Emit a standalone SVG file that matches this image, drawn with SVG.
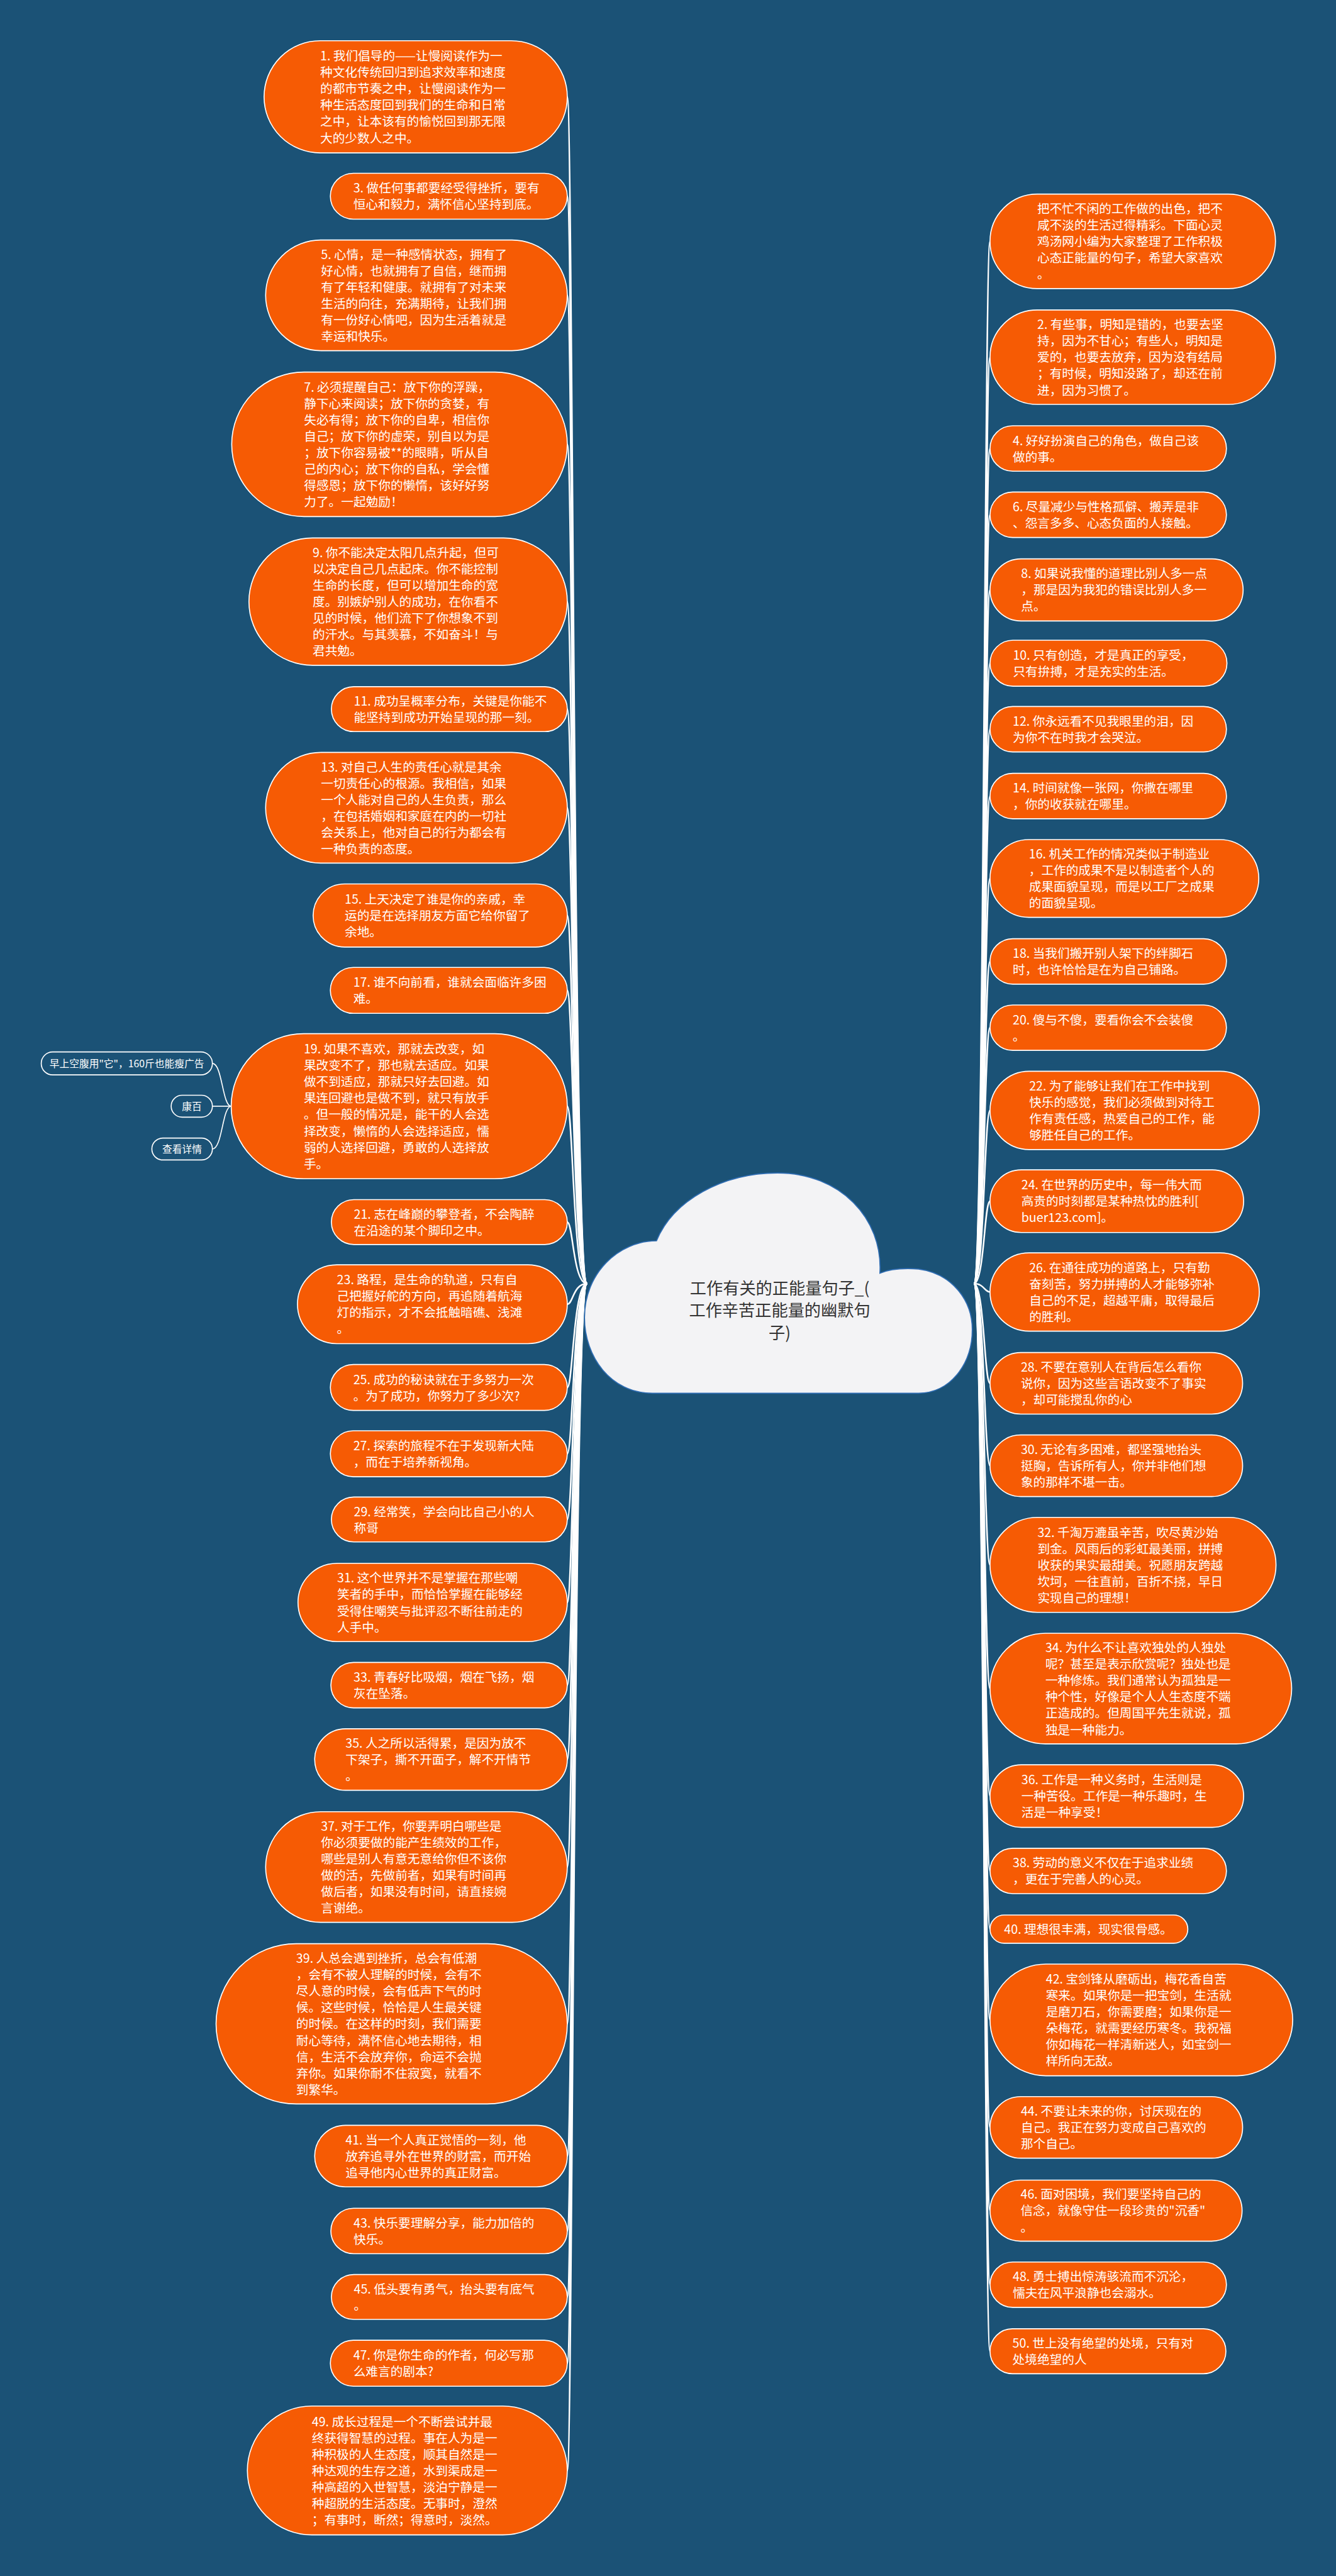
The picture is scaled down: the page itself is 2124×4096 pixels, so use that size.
<svg xmlns="http://www.w3.org/2000/svg" width="2124" height="4096" viewBox="0 0 2124 4096">
<style>
.p{fill:#f65b04;stroke:#ffffff;stroke-width:2}
.t{fill:#ffffff;font-family:"Noto Sans CJK SC","Noto Sans",sans-serif;font-size:23.7px}
.c{fill:none;stroke:#ffffff;stroke-width:3}
.sc{fill:none;stroke:#ffffff;stroke-width:2}
.s{fill:#1b5276;stroke:#ffffff;stroke-width:2}
.st{fill:#ffffff;font-family:"Noto Sans CJK SC","Noto Sans",sans-serif;font-size:19px;text-anchor:middle}
.rt{fill:#333333;font-family:"Noto Sans CJK SC","Noto Sans",sans-serif;font-size:31.6px;text-anchor:middle}
</style>
<rect x="0" y="0" width="2124" height="4096" fill="#1b5276"/>
<g transform="scale(0.8297)">
<g id="connectors">
<path class="c" d="M1125 2460C1098 2460 1098 185.5 1087 185.5"/>
<path class="c" d="M1125 2460C1098 2460 1098 376 1087 376"/>
<path class="c" d="M1125 2460C1098 2460 1098 566 1087 566"/>
<path class="c" d="M1125 2460C1098 2460 1098 851.5 1087 851.5"/>
<path class="c" d="M1125 2460C1098 2460 1098 1153 1087 1153"/>
<path class="c" d="M1125 2460C1098 2460 1098 1359 1087 1359"/>
<path class="c" d="M1125 2460C1098 2460 1098 1548 1087 1548"/>
<path class="c" d="M1125 2460C1098 2460 1098 1754.5 1087 1754.5"/>
<path class="c" d="M1125 2460C1098 2460 1098 1898 1087 1898"/>
<path class="c" d="M1125 2460C1098 2460 1098 2120 1087 2120"/>
<path class="c" d="M1125 2460C1098 2460 1098 2342 1087 2342"/>
<path class="c" d="M1125 2460C1098 2460 1098 2499.5 1087 2499.5"/>
<path class="c" d="M1125 2460C1098 2460 1098 2659 1087 2659"/>
<path class="c" d="M1125 2460C1098 2460 1098 2786 1087 2786"/>
<path class="c" d="M1125 2460C1098 2460 1098 2912 1087 2912"/>
<path class="c" d="M1125 2460C1098 2460 1098 3071 1087 3071"/>
<path class="c" d="M1125 2460C1098 2460 1098 3229.5 1087 3229.5"/>
<path class="c" d="M1125 2460C1098 2460 1098 3372 1087 3372"/>
<path class="c" d="M1125 2460C1098 2460 1098 3578 1087 3578"/>
<path class="c" d="M1125 2460C1098 2460 1098 3878.5 1087 3878.5"/>
<path class="c" d="M1125 2460C1098 2460 1098 4132 1087 4132"/>
<path class="c" d="M1125 2460C1098 2460 1098 4275.5 1087 4275.5"/>
<path class="c" d="M1125 2460C1098 2460 1098 4402 1087 4402"/>
<path class="c" d="M1125 2460C1098 2460 1098 4529 1087 4529"/>
<path class="c" d="M1125 2460C1098 2460 1098 4734.5 1087 4734.5"/>
<path class="c" d="M1866 2460C1886 2460 1886 462.5 1897 462.5"/>
<path class="c" d="M1866 2460C1886 2460 1886 684.5 1897 684.5"/>
<path class="c" d="M1866 2460C1886 2460 1886 859.5 1897 859.5"/>
<path class="c" d="M1866 2460C1886 2460 1886 986.5 1897 986.5"/>
<path class="c" d="M1866 2460C1886 2460 1886 1130.5 1897 1130.5"/>
<path class="c" d="M1866 2460C1886 2460 1886 1271 1897 1271"/>
<path class="c" d="M1866 2460C1886 2460 1886 1397.5 1897 1397.5"/>
<path class="c" d="M1866 2460C1886 2460 1886 1525.5 1897 1525.5"/>
<path class="c" d="M1866 2460C1886 2460 1886 1683.5 1897 1683.5"/>
<path class="c" d="M1866 2460C1886 2460 1886 1842.5 1897 1842.5"/>
<path class="c" d="M1866 2460C1886 2460 1886 1969.5 1897 1969.5"/>
<path class="c" d="M1866 2460C1886 2460 1886 2128 1897 2128"/>
<path class="c" d="M1866 2460C1886 2460 1886 2302 1897 2302"/>
<path class="c" d="M1866 2460C1886 2460 1886 2476 1897 2476"/>
<path class="c" d="M1866 2460C1886 2460 1886 2651 1897 2651"/>
<path class="c" d="M1866 2460C1886 2460 1886 2809 1897 2809"/>
<path class="c" d="M1866 2460C1886 2460 1886 2999 1897 2999"/>
<path class="c" d="M1866 2460C1886 2460 1886 3236 1897 3236"/>
<path class="c" d="M1866 2460C1886 2460 1886 3442 1897 3442"/>
<path class="c" d="M1866 2460C1886 2460 1886 3585.5 1897 3585.5"/>
<path class="c" d="M1866 2460C1886 2460 1886 3697 1897 3697"/>
<path class="c" d="M1866 2460C1886 2460 1886 3871 1897 3871"/>
<path class="c" d="M1866 2460C1886 2460 1886 4077 1897 4077"/>
<path class="c" d="M1866 2460C1886 2460 1886 4236.5 1897 4236.5"/>
<path class="c" d="M1866 2460C1886 2460 1886 4378.5 1897 4378.5"/>
<path class="c" d="M1866 2460C1886 2460 1886 4506 1897 4506"/>
<path class="sc" d="M407 2038C426 2038 426 2120 443 2120"/>
<path class="sc" d="M407 2120L443 2120"/>
<path class="sc" d="M407 2202C426 2202 426 2120 443 2120"/>
</g>
<g id="root">
<path d="M1250 2670C1170 2670 1120 2600 1120 2525C1120 2440 1185 2378 1258 2378C1290 2300 1385 2248 1490 2248C1610 2248 1692 2335 1686 2440C1705 2432 1732 2430 1760 2432C1822 2440 1863 2490 1863 2548C1863 2615 1820 2670 1760 2670Z" fill="#f3f3f5" stroke="#2f6db3" stroke-width="2"/>
<text class="rt"><tspan x="1494" y="2480">工作有关的正能量句子_(</tspan><tspan x="1494" y="2523">工作辛苦正能量的幽默句</tspan><tspan x="1494" y="2566">子)</tspan></text>
</g>
<g id="n1"><rect class="p" x="506" y="78" width="581" height="215" rx="107.5"/><text class="t"><tspan x="613.5" y="116">1. 我们倡导的——让慢阅读作为一</tspan><tspan x="613.5" y="147.4">种文化传统回归到追求效率和速度</tspan><tspan x="613.5" y="178.8">的都市节奏之中，让慢阅读作为一</tspan><tspan x="613.5" y="210.2">种生活态度回到我们的生命和日常</tspan><tspan x="613.5" y="241.6">之中，让本该有的愉悦回到那无限</tspan><tspan x="613.5" y="273">大的少数人之中。</tspan></text></g>
<g id="n3"><rect class="p" x="633" y="332" width="454" height="88" rx="44"/><text class="t"><tspan x="677" y="369.3">3. 做任何事都要经受得挫折，要有</tspan><tspan x="677" y="400.7">恒心和毅力，满怀信心坚持到底。</tspan></text></g>
<g id="n5"><rect class="p" x="509" y="460" width="578" height="212" rx="106"/><text class="t"><tspan x="615" y="496.5">5. 心情，是一种感情状态，拥有了</tspan><tspan x="615" y="527.9">好心情，也就拥有了自信，继而拥</tspan><tspan x="615" y="559.3">有了年轻和健康。就拥有了对未来</tspan><tspan x="615" y="590.7">生活的向往，充满期待，让我们拥</tspan><tspan x="615" y="622.1">有一份好心情吧，因为生活着就是</tspan><tspan x="615" y="653.5">幸运和快乐。</tspan></text></g>
<g id="n7"><rect class="p" x="444" y="713" width="643" height="277" rx="138.5"/><text class="t"><tspan x="582.5" y="750.6">7. 必须提醒自己：放下你的浮躁，</tspan><tspan x="582.5" y="782">静下心来阅读；放下你的贪婪，有</tspan><tspan x="582.5" y="813.4">失必有得；放下你的自卑，相信你</tspan><tspan x="582.5" y="844.8">自己；放下你的虚荣，别自以为是</tspan><tspan x="582.5" y="876.2">；放下你容易被**的眼睛，听从自</tspan><tspan x="582.5" y="907.6">己的内心；放下你的自私，学会懂</tspan><tspan x="582.5" y="939">得感恩；放下你的懒惰，该好好努</tspan><tspan x="582.5" y="970.4">力了。一起勉励！</tspan></text></g>
<g id="n9"><rect class="p" x="477" y="1031" width="610" height="244" rx="122"/><text class="t"><tspan x="599" y="1067.8">9. 你不能决定太阳几点升起，但可</tspan><tspan x="599" y="1099.2">以决定自己几点起床。你不能控制</tspan><tspan x="599" y="1130.6">生命的长度，但可以增加生命的宽</tspan><tspan x="599" y="1162">度。别嫉妒别人的成功，在你看不</tspan><tspan x="599" y="1193.4">见的时候，他们流下了你想象不到</tspan><tspan x="599" y="1224.8">的汗水。与其羡慕，不如奋斗！与</tspan><tspan x="599" y="1256.2">君共勉。</tspan></text></g>
<g id="n11"><rect class="p" x="635" y="1316" width="452" height="86" rx="43"/><text class="t"><tspan x="678" y="1352.3">11. 成功呈概率分布，关键是你能不</tspan><tspan x="678" y="1383.7">能坚持到成功开始呈现的那一刻。</tspan></text></g>
<g id="n13"><rect class="p" x="509" y="1442" width="578" height="212" rx="106"/><text class="t"><tspan x="615" y="1478.5">13. 对自己人生的责任心就是其余</tspan><tspan x="615" y="1509.9">一切责任心的根源。我相信，如果</tspan><tspan x="615" y="1541.3">一个人能对自己的人生负责，那么</tspan><tspan x="615" y="1572.7">，在包括婚姻和家庭在内的一切社</tspan><tspan x="615" y="1604.1">会关系上，他对自己的行为都会有</tspan><tspan x="615" y="1635.5">一种负责的态度。</tspan></text></g>
<g id="n15"><rect class="p" x="600" y="1694" width="487" height="121" rx="60.5"/><text class="t"><tspan x="660.5" y="1732.1">15. 上天决定了谁是你的亲戚，幸</tspan><tspan x="660.5" y="1763.5">运的是在选择朋友方面它给你留了</tspan><tspan x="660.5" y="1794.9">余地。</tspan></text></g>
<g id="n17"><rect class="p" x="633" y="1854" width="454" height="88" rx="44"/><text class="t"><tspan x="677" y="1891.3">17. 谁不向前看，谁就会面临许多困</tspan><tspan x="677" y="1922.7">难。</tspan></text></g>
<g id="n19"><rect class="p" x="443" y="1981" width="644" height="278" rx="139"/><text class="t"><tspan x="582" y="2019.1">19. 如果不喜欢，那就去改变，如</tspan><tspan x="582" y="2050.5">果改变不了，那也就去适应。如果</tspan><tspan x="582" y="2081.9">做不到适应，那就只好去回避。如</tspan><tspan x="582" y="2113.3">果连回避也是做不到，就只有放手</tspan><tspan x="582" y="2144.7">。但一般的情况是，能干的人会选</tspan><tspan x="582" y="2176.1">择改变，懒惰的人会选择适应，懦</tspan><tspan x="582" y="2207.5">弱的人选择回避，勇敢的人选择放</tspan><tspan x="582" y="2238.9">手。</tspan></text></g>
<g id="s1"><rect class="s" x="79" y="2016" width="328" height="44" rx="22"/><text class="st" x="243" y="2045">早上空腹用"它"，160斤也能瘦广告</text></g>
<g id="s2"><rect class="s" x="328" y="2099" width="79" height="42" rx="21"/><text class="st" x="367.5" y="2127">康百</text></g>
<g id="s3"><rect class="s" x="291" y="2181" width="116" height="42" rx="21"/><text class="st" x="349" y="2209">查看详情</text></g>
<g id="n21"><rect class="p" x="635" y="2299" width="452" height="86" rx="43"/><text class="t"><tspan x="678" y="2335.3">21. 志在峰巅的攀登者，不会陶醉</tspan><tspan x="678" y="2366.7">在沿途的某个脚印之中。</tspan></text></g>
<g id="n23"><rect class="p" x="570" y="2424" width="517" height="151" rx="75.5"/><text class="t"><tspan x="645.5" y="2461.4">23. 路程，是生命的轨道，只有自</tspan><tspan x="645.5" y="2492.8">己把握好舵的方向，再追随着航海</tspan><tspan x="645.5" y="2524.2">灯的指示，才不会抵触暗礁、浅滩</tspan><tspan x="645.5" y="2555.6">。</tspan></text></g>
<g id="n25"><rect class="p" x="633" y="2615" width="454" height="88" rx="44"/><text class="t"><tspan x="677" y="2652.3">25. 成功的秘诀就在于多努力一次</tspan><tspan x="677" y="2683.7">。为了成功，你努力了多少次?</tspan></text></g>
<g id="n27"><rect class="p" x="633" y="2742" width="454" height="88" rx="44"/><text class="t"><tspan x="677" y="2779.3">27. 探索的旅程不在于发现新大陆</tspan><tspan x="677" y="2810.7">，而在于培养新视角。</tspan></text></g>
<g id="n29"><rect class="p" x="635" y="2869" width="452" height="86" rx="43"/><text class="t"><tspan x="678" y="2905.3">29. 经常笑，学会向比自己小的人</tspan><tspan x="678" y="2936.7">称哥</tspan></text></g>
<g id="n31"><rect class="p" x="571" y="2996" width="516" height="150" rx="75"/><text class="t"><tspan x="646" y="3032.9">31. 这个世界并不是掌握在那些嘲</tspan><tspan x="646" y="3064.3">笑者的手中，而恰恰掌握在能够经</tspan><tspan x="646" y="3095.7">受得住嘲笑与批评忍不断往前走的</tspan><tspan x="646" y="3127.1">人手中。</tspan></text></g>
<g id="n33"><rect class="p" x="634" y="3186" width="453" height="87" rx="43.5"/><text class="t"><tspan x="677.5" y="3222.8">33. 青春好比吸烟，烟在飞扬，烟</tspan><tspan x="677.5" y="3254.2">灰在坠落。</tspan></text></g>
<g id="n35"><rect class="p" x="603" y="3313" width="484" height="118" rx="59"/><text class="t"><tspan x="662" y="3349.6">35. 人之所以活得累，是因为放不</tspan><tspan x="662" y="3381">下架子，撕不开面子，解不开情节</tspan><tspan x="662" y="3412.4">。</tspan></text></g>
<g id="n37"><rect class="p" x="509" y="3472" width="578" height="212" rx="106"/><text class="t"><tspan x="615" y="3508.5">37. 对于工作，你要弄明白哪些是</tspan><tspan x="615" y="3539.9">你必须要做的能产生绩效的工作，</tspan><tspan x="615" y="3571.3">哪些是别人有意无意给你但不该你</tspan><tspan x="615" y="3602.7">做的活，先做前者，如果有时间再</tspan><tspan x="615" y="3634.1">做后者，如果没有时间，请直接婉</tspan><tspan x="615" y="3665.5">言谢绝。</tspan></text></g>
<g id="n39"><rect class="p" x="414" y="3725" width="673" height="307" rx="153.5"/><text class="t"><tspan x="567.5" y="3761.9">39. 人总会遇到挫折，总会有低潮</tspan><tspan x="567.5" y="3793.3">，会有不被人理解的时候，会有不</tspan><tspan x="567.5" y="3824.7">尽人意的时候，会有低声下气的时</tspan><tspan x="567.5" y="3856.1">候。这些时候，恰恰是人生最关键</tspan><tspan x="567.5" y="3887.5">的时候。在这样的时刻，我们需要</tspan><tspan x="567.5" y="3918.9">耐心等待，满怀信心地去期待，相</tspan><tspan x="567.5" y="3950.3">信，生活不会放弃你，命运不会抛</tspan><tspan x="567.5" y="3981.7">弃你。如果你耐不住寂寞，就看不</tspan><tspan x="567.5" y="4013.1">到繁华。</tspan></text></g>
<g id="n41"><rect class="p" x="603" y="4073" width="484" height="118" rx="59"/><text class="t"><tspan x="662" y="4109.6">41. 当一个人真正觉悟的一刻，他</tspan><tspan x="662" y="4141">放弃追寻外在世界的财富，而开始</tspan><tspan x="662" y="4172.4">追寻他内心世界的真正财富。</tspan></text></g>
<g id="n43"><rect class="p" x="634" y="4232" width="453" height="87" rx="43.5"/><text class="t"><tspan x="677.5" y="4268.8">43. 快乐要理解分享，能力加倍的</tspan><tspan x="677.5" y="4300.2">快乐。</tspan></text></g>
<g id="n45"><rect class="p" x="635" y="4359" width="452" height="86" rx="43"/><text class="t"><tspan x="678" y="4395.3">45. 低头要有勇气，抬头要有底气</tspan><tspan x="678" y="4426.7">。</tspan></text></g>
<g id="n47"><rect class="p" x="633" y="4485" width="454" height="88" rx="44"/><text class="t"><tspan x="677" y="4522.3">47. 你是你生命的作者，何必写那</tspan><tspan x="677" y="4553.7">么难言的剧本?</tspan></text></g>
<g id="n49"><rect class="p" x="474" y="4611" width="613" height="247" rx="123.5"/><text class="t"><tspan x="597.5" y="4649.3">49. 成长过程是一个不断尝试并最</tspan><tspan x="597.5" y="4680.7">终获得智慧的过程。事在人为是一</tspan><tspan x="597.5" y="4712.1">种积极的人生态度，顺其自然是一</tspan><tspan x="597.5" y="4743.5">种达观的生存之道，水到渠成是一</tspan><tspan x="597.5" y="4774.9">种高超的入世智慧，淡泊宁静是一</tspan><tspan x="597.5" y="4806.3">种超脱的生活态度。无事时，澄然</tspan><tspan x="597.5" y="4837.7">；有事时，断然；得意时，淡然。</tspan></text></g>
<g id="intro"><rect class="p" x="1897" y="372" width="547" height="181" rx="90.5"/><text class="t"><tspan x="1987.5" y="408.7">把不忙不闲的工作做的出色，把不</tspan><tspan x="1987.5" y="440.1">咸不淡的生活过得精彩。下面心灵</tspan><tspan x="1987.5" y="471.5">鸡汤网小编为大家整理了工作积极</tspan><tspan x="1987.5" y="502.9">心态正能量的句子，希望大家喜欢</tspan><tspan x="1987.5" y="534.3">。</tspan></text></g>
<g id="n2"><rect class="p" x="1897" y="594" width="547" height="181" rx="90.5"/><text class="t"><tspan x="1987.5" y="630.7">2. 有些事，明知是错的，也要去坚</tspan><tspan x="1987.5" y="662.1">持，因为不甘心；有些人，明知是</tspan><tspan x="1987.5" y="693.5">爱的，也要去放弃，因为没有结局</tspan><tspan x="1987.5" y="724.9">；有时候，明知没路了，却还在前</tspan><tspan x="1987.5" y="756.3">进，因为习惯了。</tspan></text></g>
<g id="n4"><rect class="p" x="1897" y="816" width="453" height="87" rx="43.5"/><text class="t"><tspan x="1940.5" y="852.8">4. 好好扮演自己的角色，做自己该</tspan><tspan x="1940.5" y="884.2">做的事。</tspan></text></g>
<g id="n6"><rect class="p" x="1897" y="943" width="453" height="87" rx="43.5"/><text class="t"><tspan x="1940.5" y="979.8">6. 尽量减少与性格孤僻、搬弄是非</tspan><tspan x="1940.5" y="1011.2">、怨言多多、心态负面的人接触。</tspan></text></g>
<g id="n8"><rect class="p" x="1897" y="1071" width="485" height="119" rx="59.5"/><text class="t"><tspan x="1956.5" y="1108.1">8. 如果说我懂的道理比别人多一点</tspan><tspan x="1956.5" y="1139.5">，那是因为我犯的错误比别人多一</tspan><tspan x="1956.5" y="1170.9">点。</tspan></text></g>
<g id="n10"><rect class="p" x="1897" y="1227" width="454" height="88" rx="44"/><text class="t"><tspan x="1941" y="1264.3">10. 只有创造，才是真正的享受，</tspan><tspan x="1941" y="1295.7">只有拚搏，才是充实的生活。</tspan></text></g>
<g id="n12"><rect class="p" x="1897" y="1354" width="453" height="87" rx="43.5"/><text class="t"><tspan x="1940.5" y="1390.8">12. 你永远看不见我眼里的泪，因</tspan><tspan x="1940.5" y="1422.2">为你不在时我才会哭泣。</tspan></text></g>
<g id="n14"><rect class="p" x="1897" y="1482" width="453" height="87" rx="43.5"/><text class="t"><tspan x="1940.5" y="1518.8">14. 时间就像一张网，你撒在哪里</tspan><tspan x="1940.5" y="1550.2">，你的收获就在哪里。</tspan></text></g>
<g id="n16"><rect class="p" x="1897" y="1609" width="515" height="149" rx="74.5"/><text class="t"><tspan x="1971.5" y="1645.4">16. 机关工作的情况类似于制造业</tspan><tspan x="1971.5" y="1676.8">，工作的成果不是以制造者个人的</tspan><tspan x="1971.5" y="1708.2">成果面貌呈现，而是以工厂之成果</tspan><tspan x="1971.5" y="1739.6">的面貌呈现。</tspan></text></g>
<g id="n18"><rect class="p" x="1897" y="1799" width="453" height="87" rx="43.5"/><text class="t"><tspan x="1940.5" y="1835.8">18. 当我们搬开别人架下的绊脚石</tspan><tspan x="1940.5" y="1867.2">时，也许恰恰是在为自己铺路。</tspan></text></g>
<g id="n20"><rect class="p" x="1897" y="1926" width="453" height="87" rx="43.5"/><text class="t"><tspan x="1940.5" y="1962.8">20. 傻与不傻，要看你会不会装傻</tspan><tspan x="1940.5" y="1994.2">。</tspan></text></g>
<g id="n22"><rect class="p" x="1897" y="2053" width="516" height="150" rx="75"/><text class="t"><tspan x="1972" y="2089.9">22. 为了能够让我们在工作中找到</tspan><tspan x="1972" y="2121.3">快乐的感觉，我们必须做到对待工</tspan><tspan x="1972" y="2152.7">作有责任感，热爱自己的工作，能</tspan><tspan x="1972" y="2184.1">够胜任自己的工作。</tspan></text></g>
<g id="n24"><rect class="p" x="1897" y="2242" width="486" height="120" rx="60"/><text class="t"><tspan x="1957" y="2279.6">24. 在世界的历史中，每一伟大而</tspan><tspan x="1957" y="2311">高贵的时刻都是某种热忱的胜利[</tspan><tspan x="1957" y="2342.4">buer123.com]。</tspan></text></g>
<g id="n26"><rect class="p" x="1897" y="2401" width="516" height="150" rx="75"/><text class="t"><tspan x="1972" y="2437.9">26. 在通往成功的道路上，只有勤</tspan><tspan x="1972" y="2469.3">奋刻苦，努力拼搏的人才能够弥补</tspan><tspan x="1972" y="2500.7">自己的不足，超越平庸，取得最后</tspan><tspan x="1972" y="2532.1">的胜利。</tspan></text></g>
<g id="n28"><rect class="p" x="1897" y="2592" width="484" height="118" rx="59"/><text class="t"><tspan x="1956" y="2628.6">28. 不要在意别人在背后怎么看你</tspan><tspan x="1956" y="2660">说你，因为这些言语改变不了事实</tspan><tspan x="1956" y="2691.4">，却可能搅乱你的心</tspan></text></g>
<g id="n30"><rect class="p" x="1897" y="2750" width="484" height="118" rx="59"/><text class="t"><tspan x="1956" y="2786.6">30. 无论有多困难，都坚强地抬头</tspan><tspan x="1956" y="2818">挺胸，告诉所有人，你并非他们想</tspan><tspan x="1956" y="2849.4">象的那样不堪一击。</tspan></text></g>
<g id="n32"><rect class="p" x="1897" y="2908" width="548" height="182" rx="91"/><text class="t"><tspan x="1988" y="2945.2">32. 千淘万漉虽辛苦，吹尽黄沙始</tspan><tspan x="1988" y="2976.6">到金。风雨后的彩虹最美丽，拼搏</tspan><tspan x="1988" y="3008">收获的果实最甜美。祝愿朋友跨越</tspan><tspan x="1988" y="3039.4">坎坷，一往直前，百折不挠，早日</tspan><tspan x="1988" y="3070.8">实现自己的理想！</tspan></text></g>
<g id="n34"><rect class="p" x="1897" y="3130" width="578" height="212" rx="106"/><text class="t"><tspan x="2003" y="3166.5">34. 为什么不让喜欢独处的人独处</tspan><tspan x="2003" y="3197.9">呢？甚至是表示欣赏呢？独处也是</tspan><tspan x="2003" y="3229.3">一种修炼。我们通常认为孤独是一</tspan><tspan x="2003" y="3260.7">种个性，好像是个人人生态度不端</tspan><tspan x="2003" y="3292.1">正造成的。但周国平先生就说，孤</tspan><tspan x="2003" y="3323.5">独是一种能力。</tspan></text></g>
<g id="n36"><rect class="p" x="1897" y="3382" width="486" height="120" rx="60"/><text class="t"><tspan x="1957" y="3419.6">36. 工作是一种义务时，生活则是</tspan><tspan x="1957" y="3451">一种苦役。工作是一种乐趣时，生</tspan><tspan x="1957" y="3482.4">活是一种享受！</tspan></text></g>
<g id="n38"><rect class="p" x="1897" y="3542" width="453" height="87" rx="43.5"/><text class="t"><tspan x="1940.5" y="3578.8">38. 劳动的意义不仅在于追求业绩</tspan><tspan x="1940.5" y="3610.2">，更在于完善人的心灵。</tspan></text></g>
<g id="n40"><rect class="p" x="1897" y="3670" width="379" height="54" rx="27"/><text class="t"><tspan x="1924" y="3706">40. 理想很丰满，现实很骨感。</tspan></text></g>
<g id="n42"><rect class="p" x="1897" y="3764" width="580" height="214" rx="107"/><text class="t"><tspan x="2004" y="3801.5">42. 宝剑锋从磨砺出，梅花香自苦</tspan><tspan x="2004" y="3832.9">寒来。如果你是一把宝剑，生活就</tspan><tspan x="2004" y="3864.3">是磨刀石，你需要磨；如果你是一</tspan><tspan x="2004" y="3895.7">朵梅花，就需要经历寒冬。我祝福</tspan><tspan x="2004" y="3927.1">你如梅花一样清新迷人，如宝剑一</tspan><tspan x="2004" y="3958.5">样所向无敌。</tspan></text></g>
<g id="n44"><rect class="p" x="1897" y="4018" width="484" height="118" rx="59"/><text class="t"><tspan x="1956" y="4054.6">44. 不要让未来的你，讨厌现在的</tspan><tspan x="1956" y="4086">自己。我正在努力变成自己喜欢的</tspan><tspan x="1956" y="4117.4">那个自己。</tspan></text></g>
<g id="n46"><rect class="p" x="1897" y="4178" width="483" height="117" rx="58.5"/><text class="t"><tspan x="1955.5" y="4214.1">46. 面对困境，我们要坚持自己的</tspan><tspan x="1955.5" y="4245.5">信念，就像守住一段珍贵的"沉香"</tspan><tspan x="1955.5" y="4276.9">。</tspan></text></g>
<g id="n48"><rect class="p" x="1897" y="4335" width="453" height="87" rx="43.5"/><text class="t"><tspan x="1940.5" y="4371.8">48. 勇士搏出惊涛骇流而不沉沦，</tspan><tspan x="1940.5" y="4403.2">懦夫在风平浪静也会溺水。</tspan></text></g>
<g id="n50"><rect class="p" x="1897" y="4463" width="452" height="86" rx="43"/><text class="t"><tspan x="1940" y="4499.3">50. 世上没有绝望的处境，只有对</tspan><tspan x="1940" y="4530.7">处境绝望的人</tspan></text></g>
</g>
</svg>
